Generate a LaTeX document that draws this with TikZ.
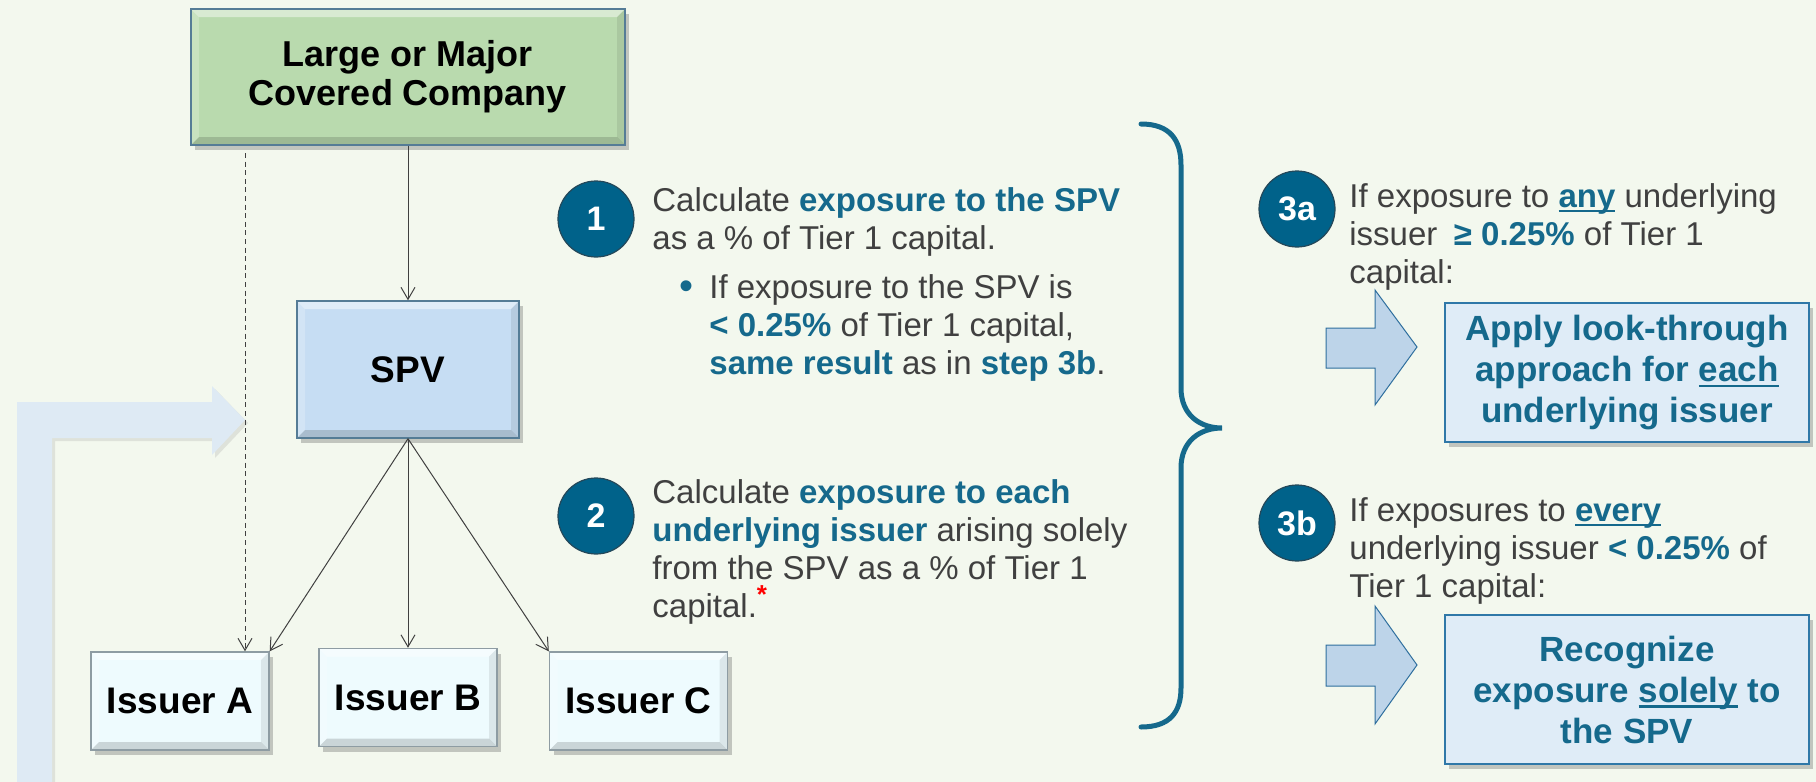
\documentclass[tikz,border=0pt]{standalone}
\usepackage{fontspec}
\setmainfont{Liberation Sans}
\usetikzlibrary{arrows.meta,shadows}
\definecolor{bg}{HTML}{F3F8EE}
\definecolor{cteal}{HTML}{00628A}
\definecolor{numb}{HTML}{24485A}
\definecolor{hl}{HTML}{15698C}
\definecolor{txt}{HTML}{404040}
\definecolor{gfill}{HTML}{B9DAAE}
\definecolor{sfill}{HTML}{C6DDF3}
\definecolor{ifill}{HTML}{EEFBFE}
\definecolor{bxb}{HTML}{557C96}
\definecolor{ib}{HTML}{8E9CA3}
\definecolor{rfill}{HTML}{DFECF7}
\definecolor{rb}{HTML}{2F78A8}
\definecolor{afill}{HTML}{BDD4E9}
\definecolor{ab}{HTML}{2F6F9E}
\definecolor{lfill}{HTML}{DEEAF4}
\definecolor{conn}{HTML}{404040}
\newcommand\ulx[1]{\setbox0\hbox{#1}\rlap{\rule[-0.16em]{\wd0}{0.07em}}\box0\relax}
\newcommand\hlb[1]{\textbf{\color{hl}#1}}
\tikzset{
  bevel/.style={path picture={
    \fill[white,opacity=.45] (path picture bounding box.north west) -- (path picture bounding box.north east) -- ([shift={(-4pt,-4pt)}]path picture bounding box.north east) -- ([shift={(4pt,-4pt)}]path picture bounding box.north west) -- cycle;
    \fill[white,opacity=.22] (path picture bounding box.north west) -- ([shift={(4pt,-4pt)}]path picture bounding box.north west) -- ([shift={(4pt,4pt)}]path picture bounding box.south west) -- (path picture bounding box.south west) -- cycle;
    \fill[black,opacity=.08] (path picture bounding box.north east) -- ([shift={(-4pt,-4pt)}]path picture bounding box.north east) -- ([shift={(-4pt,4pt)}]path picture bounding box.south east) -- (path picture bounding box.south east) -- cycle;
    \fill[black,opacity=.15] (path picture bounding box.south west) -- (path picture bounding box.south east) -- ([shift={(-4pt,4pt)}]path picture bounding box.south east) -- ([shift={(4pt,4pt)}]path picture bounding box.south west) -- cycle;
  }},
  shad/.style={drop shadow={shadow xshift=2pt,shadow yshift=-2.5pt,opacity=.35,fill=black!60}},
  basebox/.style={draw=bxb, line width=.7pt, bevel, shad, align=center, inner sep=0pt, text=black},
  gbox/.style={basebox, fill=gfill, minimum width=217pt, minimum height=68pt, font=\bfseries\fontsize{18}{19.5}\selectfont},
  sbox/.style={basebox, fill=sfill, minimum width=111pt, minimum height=68.5pt, font=\bfseries\fontsize{18.5}{22}\selectfont},
  ibox/.style={basebox, draw=ib, fill=ifill, minimum width=89pt, minimum height=49pt, font=\bfseries\fontsize{18.5}{22}\selectfont},
  rbox/.style={draw=rb, line width=1pt, fill=rfill, shad, minimum width=182pt, minimum height=69.5pt, inner sep=0pt, align=center, text=hl, font=\bfseries\fontsize{17.5}{20.5}\selectfont},
  num/.style={circle, fill=cteal, draw=numb, line width=.6pt, minimum size=38pt, inner sep=0pt, text=white, font=\bfseries\fontsize{17}{19}\selectfont},
  body/.style={font=\fontsize{16.5}{19}\selectfont, text=txt, align=left, inner sep=0pt, anchor=base west},
  link/.style={draw=conn, line width=.5pt, -{Straight Barb[length=6pt,width=7pt]}},
  barrow/.style={fill=afill, draw=ab, line width=.5pt},
}
\begin{document}
\begin{tikzpicture}[x=0.5pt,y=-0.5pt]
\fill[bg] (0,0) rectangle (1816,782);
\useasboundingbox (0,0) rectangle (1816,782);
% big L arrow
\fill[lfill, drop shadow={shadow xshift=1.5pt,shadow yshift=-1.5pt,opacity=.18,fill=black!50}] (17,782) -- (17,402) -- (212,402) -- (212,386) -- (245,420) -- (212,455) -- (212,438) -- (52,438) -- (52,782) -- cycle;
% boxes
\node[gbox] (comp) at (408,77) {Large or Major\\Covered Company};
\node[sbox] (spv) at (408,369.5) {SPV};
\node[ibox] (ia) at (180,701) {Issuer A};
\node[ibox] (ib) at (408,697.5) {Issuer B};
\node[ibox] (ic) at (638.5,701) {Issuer C};
% connectors
\draw[link] (comp.south) -- (spv.north);
\coordinate (dtop) at (245,153);
\draw[link, dash pattern=on 2.5pt off 1.8pt] (dtop) -- (dtop |- ia.north);
\draw[link] (spv.south) -- (ia.north east);
\draw[link] (spv.south) -- (ib.north);
\draw[link] (spv.south) -- (ic.north west);
% steps
\node[num] (n1) at (596,219) {1};
\node[num] (n2) at (596,516) {2};
\node[num] (n3a) at (1297,209) {3a};
\node[num] (n3b) at (1297,523) {3b};
\node[body] (t1) at (652,249) {Calculate \hlb{exposure to the SPV}\\as a \% of Tier 1 capital.};
\node[body, text=hl, font=\fontsize{20}{20}\selectfont] (bul) at (679,299) {•};
\node[body] (t1b) at (709,374) {If exposure to the SPV is\\\hlb{< 0.25\%} of Tier 1 capital,\\\hlb{same result} as in \hlb{step 3b}.};
\node[body] (t2) at (652,617) {Calculate \hlb{exposure to each}\\\hlb{underlying issuer} arising solely\\from the SPV as a \% of Tier 1\\capital.\raisebox{0.42em}{\color{red}\bfseries\fontsize{13}{13}\selectfont*}};
\node[body] (t3a) at (1349,283) {If exposure to \hlb{\ulx{any}} underlying\\issuer\enspace\hlb{≥ 0.25\%} of Tier 1\\capital:};
\node[body] (t3b) at (1349,597) {If exposures to \hlb{\ulx{every}}\\underlying issuer \hlb{< 0.25\%} of\\Tier 1 capital:};
% brace
\draw[hl, line width=2.5pt, line cap=round] (1141,124) .. controls (1170,124) and (1181,140) .. (1181,165) -- (1181,388) .. controls (1181,415) and (1200,428) .. (1222,428) .. controls (1200,428) and (1181,441) .. (1181,468) -- (1181,688) .. controls (1181,712) and (1170,727) .. (1141,727);
% block arrows
\filldraw[barrow] (1326,328) -- (1375,328) -- (1375,290) -- (1417,347) -- (1375,405) -- (1375,368) -- (1326,368) -- cycle;
\filldraw[barrow] (1326,645) -- (1375,645) -- (1375,606) -- (1417,665) -- (1375,724) -- (1375,686) -- (1326,686) -- cycle;
% results
\node[rbox] (r3a) at (1627,372.5) {Apply look-through\\approach for \ulx{each}\\underlying issuer};
\node[rbox, minimum height=74.5pt] (r3b) at (1627,689.5) {Recognize\\exposure \ulx{solely} to\\the SPV};
\end{tikzpicture}
\end{document}
